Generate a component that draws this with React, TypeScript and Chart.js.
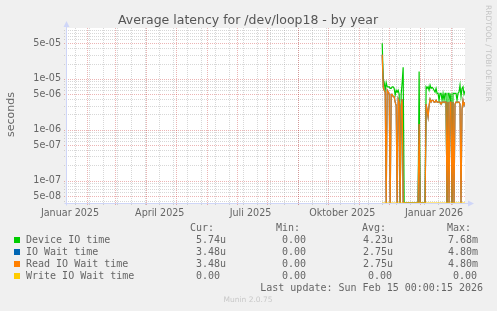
import React, { useEffect, useRef } from 'react';
import { Chart, registerables } from 'chart.js';

Chart.register(...registerables);

const W = 497;
const H = 311;

const chartTitle = 'Average latency for /dev/loop18 - by year';
const yAxisTitle = 'seconds';
const watermark = 'RRDTOOL / TOBI OETIKER';
const lastUpdate = 'Last update: Sun Feb 15 00:00:15 2026';
const muninVersion = 'Munin 2.0.75';

// x axis: days since 11 Jan 2025 (400 day window ending 15 Feb 2026)
const xMin = 0;
const xMax = 400;
const xTickDays = [4, 94, 185, 277, 369];
const xTickLabels = ['Januar 2025', 'April 2025', 'Juli 2025', 'Oktober 2025', 'Januar 2026'];
const monthStartDays = [21, 49, 80, 110, 141, 171, 202, 233, 263, 294, 324, 355, 386];
const firstMinorDay = 9;
const minorStepDays = 14;

// y axis (log)
const yMin = 3.65e-8;
const yMax = 1e-4;
const yTickValues = [5e-8, 1e-7, 5e-7, 1e-6, 5e-6, 1e-5, 5e-5];
const yTickLabels = ['5e-08', '1e-07', '5e-07', '1e-06', '5e-06', '1e-05', '5e-05'];

// data: one value per day starting at day 317
const firstDataDay = 317;

const deviceIOTime = [
  50e-6, 10e-6, 8.5e-6, 6e-6, 8.5e-6, 7e-6, 7e-6, 7e-6, 6.5e-6, 6.5e-6,
  7e-6, 7e-6, 6.5e-6, 4.8e-6, 6e-6, 5.5e-6, 6e-6, 5e-6, 0, 5e-6,
  8.5e-6, 17e-6, 0,
  0, 0, 0, 0, 0, 0, 0, 0, 0, 0, 0, 0, 0, 0,
  14e-6, 0, 0, 0, 0, 0, 0, 7e-6, 6.5e-6, 7e-6,
  6e-6, 7.5e-6, 6.5e-6, 6.8e-6, 6.5e-6, 6e-6, 5.5e-6, 6.5e-6, 5.2e-6, 5.2e-6,
  3.8e-6, 5.2e-6, 5.2e-6, 3.8e-6, 5.2e-6, 3.8e-6, 5.2e-6, 5.2e-6, 0, 5.2e-6,
  5.2e-6, 3.8e-6, 5.2e-6, 0, 5.2e-6, 5.2e-6, 5.2e-6, 5.2e-6, 3.8e-6, 5.2e-6,
  5.5e-6, 7.5e-6, 4.5e-6, 6.5e-6, 7e-6, 5e-6, 5.74e-6,
];

const ioWaitTime = [
  30e-6, 7e-6, 6e-6, 5.5e-6, 0, 6e-6, 5.5e-6, 5e-6, 0, 5e-6,
  5e-6, 4.5e-6, 4.5e-6, 3.5e-6, 3e-6, 0, 4e-6, 3.5e-6, 0, 3e-6,
  4e-6, 0, 0,
  0, 0, 0, 0, 0, 0, 0, 0, 0, 0, 0, 0, 0, 0,
  1.3e-6, 0, 0, 0, 0, 0, 0, 3.2e-6, 2.5e-6, 1.8e-6,
  3e-6, 4e-6, 3.5e-6, 3.8e-6, 3.8e-6, 3.5e-6, 3.5e-6, 3.8e-6, 3.5e-6, 3.5e-6,
  3.5e-6, 3.5e-6, 3.2e-6, 3.5e-6, 3.5e-6, 3.5e-6, 3.5e-6, 3.5e-6, 0, 3.5e-6,
  0, 3.5e-6, 3.5e-6, 0, 3.5e-6, 0, 3.2e-6, 3.5e-6, 3.5e-6, 3.5e-6,
  3.5e-6, 3.2e-6, 0, 2.5e-6, 3.8e-6, 3e-6, 3.48e-6,
];

const readIOWaitTime = [
  30e-6, 7e-6, 6e-6, 5.5e-6, 0, 6e-6, 5.5e-6, 5e-6, 0, 5e-6,
  5e-6, 4.5e-6, 4.5e-6, 3.5e-6, 3e-6, 0, 4e-6, 3.5e-6, 0, 3e-6,
  4e-6, 0, 0,
  0, 0, 0, 0, 0, 0, 0, 0, 0, 0, 0, 0, 0, 0,
  1.3e-6, 0, 0, 0, 0, 0, 0, 3.2e-6, 2.5e-6, 1.8e-6,
  3e-6, 4e-6, 3.5e-6, 3.8e-6, 3.8e-6, 3.5e-6, 3.5e-6, 3.8e-6, 3.5e-6, 3.5e-6,
  3.5e-6, 3.5e-6, 3.2e-6, 3.5e-6, 3.5e-6, 3.5e-6, 3.5e-6, 3.5e-6, 0, 3.5e-6,
  0, 3.5e-6, 3.5e-6, 0, 3.5e-6, 0, 3.2e-6, 3.5e-6, 3.5e-6, 3.5e-6,
  3.5e-6, 3.2e-6, 0, 2.5e-6, 3.8e-6, 3e-6, 3.48e-6,
];

const writeIOWaitTime = [
  0, 0, 0, 0, 0, 0, 0, 0, 0, 0,
  0, 0, 0, 0, 0, 0, 0, 0, 0, 0,
  0, 0, 0,
  0, 0, 0, 0, 0, 0, 0, 0, 0, 0, 0, 0, 0, 0,
  0, 0, 0, 0, 0, 0, 0, 0, 0, 0,
  0, 0, 0, 0, 0, 0, 0, 0, 0, 0,
  0, 0, 0, 0, 0, 0, 0, 0, 0, 0,
  0, 0, 0, 0, 0, 0, 0, 0, 0, 0,
  0, 0, 0, 0, 0, 0, 0,
];

// legend
const legendNames = ['Device IO time', 'IO Wait time', 'Read IO Wait time', 'Write IO Wait time'];
const seriesColors = ['#00cc00', '#0066b3', '#ff8000', '#ffcc00'];
const curValues = ['5.74u', '3.48u', '3.48u', '0.00'];
const minValues = ['0.00', '0.00', '0.00', '0.00'];
const avgValues = ['4.23u', '2.75u', '2.75u', '0.00'];
const maxValues = ['7.68m', '4.80m', '4.80m', '0.00'];
const legendHeaders = ['Cur:', 'Min:', 'Avg:', 'Max:'];

const FONT = "'DejaVu Sans', sans-serif";
const MONO = "'DejaVu Sans Mono', monospace";
const TEXT_COLOR = '#666666';
const AXIS_COLOR = '#cfd6f8';
const MINOR_GRID = 'rgba(140,140,140,0.35)';
const MAJOR_GRID = 'rgba(200,40,40,0.35)';

const rrdPlugin = {
  id: 'rrdDecor',
  beforeDatasetsDraw(chart: any) {
    const { ctx, chartArea: a, scales } = chart;
    const x = scales.x;
    const y = scales.y;
    ctx.save();
    ctx.fillStyle = '#ffffff';
    ctx.fillRect(a.left, a.top, a.right - a.left, a.bottom - a.top);
    ctx.lineWidth = 1;
    ctx.setLineDash([1, 1]);
    const vline = (d: number) => {
      const px = Math.round(x.getPixelForValue(d)) + 0.5;
      if (px < a.left || px > a.right) return;
      ctx.beginPath();
      ctx.moveTo(px, a.top);
      ctx.lineTo(px, a.bottom + 2);
      ctx.stroke();
    };
    const hline = (v: number) => {
      if (v < yMin || v > yMax) return;
      const py = Math.round(y.getPixelForValue(v)) + 0.5;
      ctx.beginPath();
      ctx.moveTo(a.left - 2, py);
      ctx.lineTo(a.right, py);
      ctx.stroke();
    };
    ctx.strokeStyle = MINOR_GRID;
    for (let d = firstMinorDay; d <= xMax; d += minorStepDays) vline(d);
    for (let e = -8; e <= -5; e++) {
      for (const m of [2, 3, 4, 6, 7, 8, 9]) hline(m * Math.pow(10, e));
    }
    ctx.strokeStyle = MAJOR_GRID;
    for (const d of monthStartDays) vline(d);
    for (const v of yTickValues) hline(v);
    ctx.restore();
  },
  afterDatasetsDraw(chart: any) {
    const { ctx, chartArea: a } = chart;
    ctx.save();
    ctx.strokeStyle = AXIS_COLOR;
    ctx.fillStyle = AXIS_COLOR;
    ctx.lineWidth = 1;
    ctx.setLineDash([]);
    const ax = Math.round(a.left) + 0.5;
    const ay = Math.round(a.bottom) + 0.5;
    ctx.beginPath();
    ctx.moveTo(ax, ay + 2);
    ctx.lineTo(ax, a.top - 3);
    ctx.moveTo(ax - 2, ay);
    ctx.lineTo(a.right + 4, ay);
    ctx.stroke();
    ctx.beginPath();
    ctx.moveTo(ax - 3, a.top - 1);
    ctx.lineTo(ax + 3, a.top - 1);
    ctx.lineTo(ax, a.top - 7);
    ctx.closePath();
    ctx.fill();
    ctx.beginPath();
    ctx.moveTo(a.right + 3, ay - 3);
    ctx.lineTo(a.right + 3, ay + 3);
    ctx.lineTo(a.right + 9, ay);
    ctx.closePath();
    ctx.fill();
    ctx.restore();
  },
  afterDraw(chart: any) {
    const { ctx } = chart;
    ctx.save();
    // title
    ctx.fillStyle = '#555555';
    ctx.font = `12.5px ${FONT}`;
    ctx.textAlign = 'center';
    ctx.textBaseline = 'alphabetic';
    ctx.fillText(chartTitle, 248, 24);
    // y axis title
    ctx.save();
    ctx.translate(11, 114.5);
    ctx.rotate(-Math.PI / 2);
    ctx.fillStyle = TEXT_COLOR;
    ctx.font = `11px ${FONT}`;
    ctx.textAlign = 'center';
    ctx.textBaseline = 'middle';
    ctx.fillText(yAxisTitle, 0, 0);
    ctx.restore();
    // watermark
    ctx.save();
    ctx.translate(488, 5);
    ctx.rotate(Math.PI / 2);
    ctx.fillStyle = '#c4c4c4';
    ctx.font = `7.5px ${FONT}`;
    ctx.textAlign = 'left';
    ctx.textBaseline = 'middle';
    ctx.fillText(watermark, 0, 0);
    ctx.restore();
    // legend
    ctx.font = `10px ${MONO}`;
    ctx.textBaseline = 'middle';
    ctx.textAlign = 'left';
    ctx.fillStyle = TEXT_COLOR;
    const headerX = [190, 276, 362, 447];
    legendHeaders.forEach((h, i) => ctx.fillText(h, headerX[i], 228));
    const rowY = [240, 252, 264, 276];
    legendNames.forEach((name, i) => {
      const yy = rowY[i];
      ctx.fillStyle = seriesColors[i];
      ctx.fillRect(14, yy - 3, 6, 6);
      ctx.fillStyle = TEXT_COLOR;
      ctx.fillText(name, 26, yy);
      ctx.fillText(curValues[i], 196, yy);
      ctx.fillText(minValues[i], 282, yy);
      ctx.fillText(avgValues[i], avgValues[i].endsWith('0') ? 368 : 363, yy);
      ctx.fillText(maxValues[i], maxValues[i].endsWith('0') ? 453 : 448, yy);
    });
    ctx.textAlign = 'right';
    ctx.fillText(lastUpdate, 483, 288);
    ctx.textAlign = 'center';
    ctx.fillStyle = '#c8c8c8';
    ctx.font = `7.5px ${FONT}`;
    ctx.fillText(muninVersion, 248, 300);
    ctx.restore();
  },
};

export default function App() {
  const ref = useRef<HTMLCanvasElement>(null);
  useEffect(() => {
    const canvas = ref.current;
    if (!canvas) return;
    const toSeries = (arr: number[]) =>
      arr.map((v, i) => ({ x: firstDataDay + i, y: v === 0 ? yMin : v }));
    const series = [deviceIOTime, ioWaitTime, readIOWaitTime, writeIOWaitTime];
    const chart = new Chart(canvas, {
      type: 'line',
      data: {
        datasets: series.map((s, i) => ({
          label: legendNames[i],
          data: toSeries(s),
          borderColor: seriesColors[i],
          backgroundColor: seriesColors[i],
          borderWidth: 1.2,
          pointRadius: 0,
          tension: 0,
          fill: false,
          order: 4 - i,
        })),
      },
      options: {
        responsive: false,
        animation: false,
        events: [],
        layout: { padding: { top: 28, right: 32, left: 0, bottom: 0 } },
        plugins: {
          legend: { display: false },
          tooltip: { enabled: false },
          title: { display: false },
        },
        scales: {
          x: {
            type: 'linear',
            min: xMin,
            max: xMax,
            bounds: 'data',
            grid: { display: false, drawTicks: false },
            border: { display: false },
            afterBuildTicks: (scale: any) => {
              scale.ticks = xTickDays.map((v) => ({ value: v }));
            },
            afterFit: (scale: any) => {
              scale.height = 108;
            },
            ticks: {
              autoSkip: false,
              maxRotation: 0,
              padding: 5,
              color: TEXT_COLOR,
              font: { family: FONT, size: 9.6 },
              callback: (value: any) => {
                const idx = xTickDays.indexOf(value);
                return idx >= 0 ? xTickLabels[idx] : '';
              },
            },
          },
          y: {
            type: 'logarithmic',
            min: yMin,
            max: yMax,
            bounds: 'data',
            grid: { display: false, drawTicks: false },
            border: { display: false },
            afterBuildTicks: (scale: any) => {
              scale.ticks = yTickValues.map((v) => ({ value: v }));
            },
            afterFit: (scale: any) => {
              scale.width = 66;
            },
            ticks: {
              autoSkip: false,
              padding: 5,
              color: TEXT_COLOR,
              font: { family: FONT, size: 9.6 },
              callback: (value: any) => {
                const idx = yTickValues.indexOf(value);
                return idx >= 0 ? yTickLabels[idx] : '';
              },
            },
          },
        },
      },
      plugins: [rrdPlugin],
    } as any);
    return () => chart.destroy();
  }, []);
  return (
    <div
      style={{
        position: 'fixed',
        left: 0,
        top: 0,
        width: W,
        height: H,
        background: '#f0f0f0',
      }}
    >
      <canvas ref={ref} width={W} height={H} style={{ display: 'block' }} />
    </div>
  );
}
